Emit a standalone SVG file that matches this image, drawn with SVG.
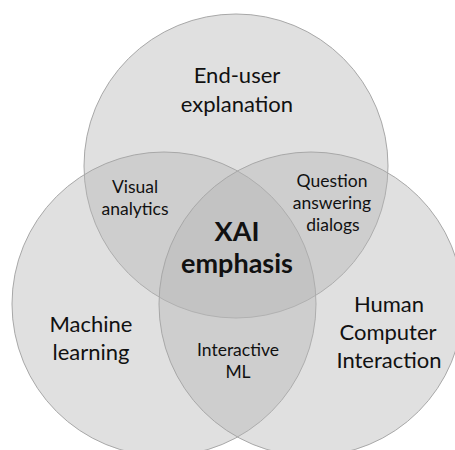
<svg xmlns="http://www.w3.org/2000/svg" width="455" height="450" viewBox="0 0 455 450">
<style>
.c{fill:#b4b4b4;fill-opacity:0.42;stroke:#a8a8a8;stroke-width:1}
text{font-family:Lato,"Open Sans","Liberation Sans",sans-serif;fill:#111;text-anchor:middle}
.big{font-size:22px}
.sm{font-size:17.5px}
.b{font-size:27px;font-weight:bold}
</style>
<rect width="455" height="450" fill="#fff"/>
<g id="end-user"><circle class="c" cx="236" cy="166" r="152"/></g>
<g id="machine-learning"><circle class="c" cx="164" cy="304" r="152"/></g>
<g id="hci"><circle class="c" cx="311" cy="304" r="152"/></g>
<g id="connectors"></g>
<g id="labels">
<text class="big" x="237" y="83">End-user</text>
<text class="big" x="237" y="112">explanation</text>
<text class="sm" x="135" y="193">Visual</text>
<text class="sm" x="135" y="215">analytics</text>
<text class="sm" x="332" y="187">Question</text>
<text class="sm" x="332" y="209">answering</text>
<text class="sm" x="333" y="231">dialogs</text>
<text class="b" x="237" y="241">XAI</text>
<text class="b" x="237" y="273">emphasis</text>
<text class="big" x="91" y="332">Machine</text>
<text class="big" x="91" y="360">learning</text>
<text class="sm" x="238" y="356">Interactive</text>
<text class="sm" x="238" y="378">ML</text>
<text class="big" x="389" y="312">Human</text>
<text class="big" x="388" y="340">Computer</text>
<text class="big" x="389" y="368">Interaction</text>
</g>
</svg>
